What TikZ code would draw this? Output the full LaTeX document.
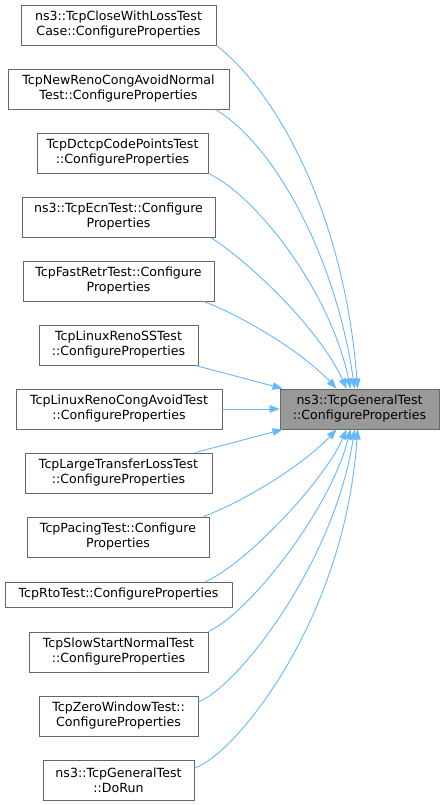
\documentclass[tikz,border=0pt]{standalone}
\usepackage{fontspec}
\setmainfont{DejaVu Sans}
\usetikzlibrary{arrows.meta}
\definecolor{edgeblue}{HTML}{63B8FF}
\definecolor{boxborder}{HTML}{666666}
\definecolor{boxfill}{HTML}{999999}
\tikzset{
  box/.style={draw=boxborder, line width=0.9pt, fill=white, inner sep=0pt, align=center,
    font=\fontsize{12.6}{15}\selectfont, text=black},
  hbox/.style={box, fill=boxfill},
  edge/.style={draw=edgeblue, line width=0.9pt, -{Triangle[length=10pt,width=7.5pt]}},
}
\begin{document}
\begin{tikzpicture}[x=1pt,y=-1pt]
\useasboundingbox (0,0) rectangle (445,805);
\node[box, minimum width=195pt, minimum height=40pt] (n1) at (118.5,25) {ns3::TcpCloseWithLossTest\\Case::ConfigureProperties};
\node[box, minimum width=221pt, minimum height=40pt] (n2) at (118.5,89) {TcpNewRenoCongAvoidNormal\\Test::ConfigureProperties};
\node[box, minimum width=171pt, minimum height=40pt] (n3) at (122.5,153) {TcpDctcpCodePointsTest\\::ConfigureProperties};
\node[box, minimum width=193pt, minimum height=40pt] (n4) at (118.5,217) {ns3::TcpEcnTest::Configure\\Properties};
\node[box, minimum width=191pt, minimum height=40pt] (n5) at (118.5,281) {TcpFastRetrTest::Configure\\Properties};
\node[box, minimum width=159pt, minimum height=40pt] (n6) at (118.5,345) {TcpLinuxRenoSSTest\\::ConfigureProperties};
\node[box, minimum width=206pt, minimum height=40pt] (n7) at (119,409) {TcpLinuxRenoCongAvoidTest\\::ConfigureProperties};
\node[box, minimum width=187pt, minimum height=40pt] (n8) at (118.5,473) {TcpLargeTransferLossTest\\::ConfigureProperties};
\node[box, minimum width=182pt, minimum height=40pt] (n9) at (118,537) {TcpPacingTest::Configure\\Properties};
\node[box, minimum width=227pt, minimum height=25pt] (n10) at (118.5,594.5) {TcpRtoTest::ConfigureProperties};
\node[box, minimum width=179pt, minimum height=40pt] (n11) at (118.5,652) {TcpSlowStartNormalTest\\::ConfigureProperties};
\node[box, minimum width=159pt, minimum height=40pt] (n12) at (118.5,716) {TcpZeroWindowTest::\\ConfigureProperties};
\node[box, minimum width=151pt, minimum height=40pt] (n13) at (118.5,780) {ns3::TcpGeneralTest\\::DoRun};
\node[hbox, minimum width=159pt, minimum height=40pt] (t) at (359.5,409) {ns3::TcpGeneralTest\\::ConfigureProperties};

\draw[edge] (n1.south east) .. controls (280,95) and (345,220) .. ([xshift=78pt]t.north west);
\draw[edge] ([xshift=-14pt]n2.south east) .. controls (275,145) and (336,258) .. ([xshift=75pt]t.north west);
\draw[edge] (n3.south east) .. controls (255,195) and (330,290) .. ([xshift=71pt]t.north west);
\draw[edge] ([xshift=-5pt]n4.south east) .. controls (250,262) and (320,330) .. ([xshift=67pt]t.north west);
\draw[edge] ([xshift=-11pt]n5.south east) .. controls (240,315) and (300,350) .. ([xshift=57pt]t.north west);
\draw[edge] ([xshift=-3pt]n6.south east) -- ([xshift=3pt]t.north west);
\draw[edge] (n7.east) -- (t.west);
\draw[edge] ([xshift=-17pt]n8.north east) -- ([xshift=3pt]t.south west);
\draw[edge] ([xshift=-6pt]n9.north east) .. controls (240,503) and (300,468) .. ([xshift=57pt]t.south west);
\draw[edge] ([xshift=-27pt]n10.north east) .. controls (245,565) and (325,480) .. ([xshift=67pt]t.south west);
\draw[edge] (n11.north east) .. controls (250,612) and (330,510) .. ([xshift=71pt]t.south west);
\draw[edge] ([yshift=14pt]n12.east) .. controls (240,685) and (335,560) .. ([xshift=75pt]t.south west);
\draw[edge] ([yshift=12pt]n13.east) .. controls (235,755) and (345,620) .. ([xshift=78pt]t.south west);
\end{tikzpicture}
\end{document}
